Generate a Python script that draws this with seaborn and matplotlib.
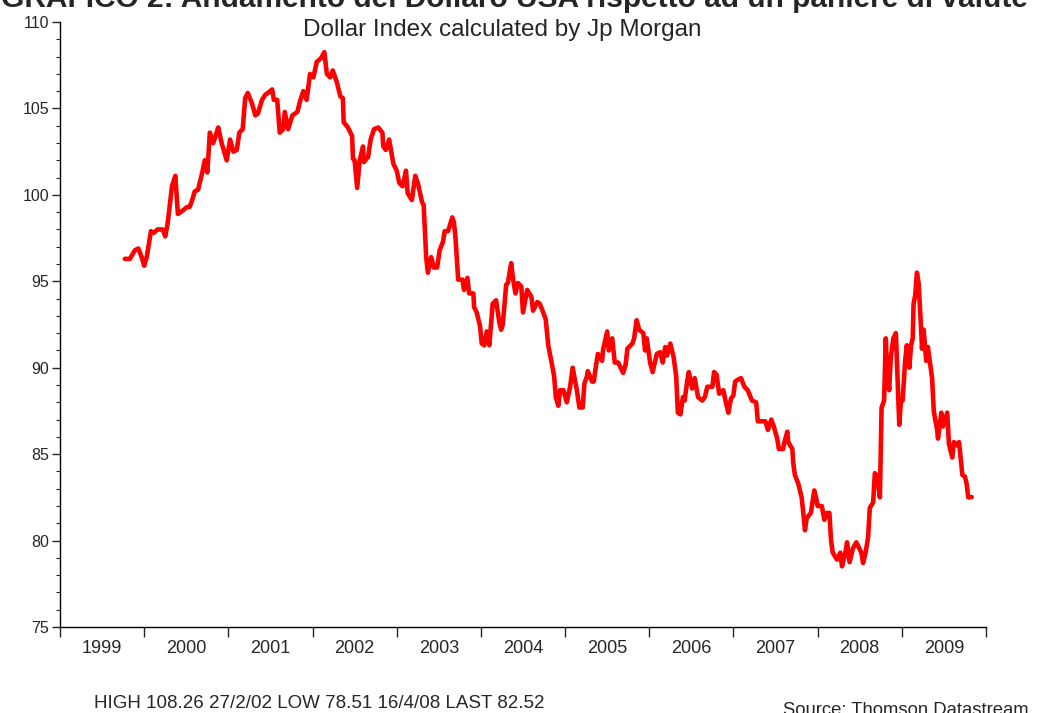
import matplotlib
matplotlib.use("Agg")
import matplotlib.pyplot as plt
import numpy as np
import pandas as pd
import seaborn as sns

# Dollar index (JP Morgan): decimal year and index level
years = [
    1999.77, 1999.83, 1999.89, 1999.93, 1999.97, 2000.00, 2000.03, 2000.08, 2000.11, 2000.16,
    2000.22, 2000.25, 2000.28, 2000.33, 2000.37, 2000.40, 2000.46, 2000.51, 2000.54, 2000.57,
    2000.60, 2000.64, 2000.69, 2000.72, 2000.75, 2000.78, 2000.82, 2000.88, 2000.92, 2000.98,
    2001.02, 2001.06, 2001.10, 2001.13, 2001.17, 2001.20, 2001.23, 2001.28, 2001.32, 2001.35,
    2001.40, 2001.44, 2001.47, 2001.52, 2001.54, 2001.58, 2001.61, 2001.65, 2001.67, 2001.71,
    2001.76, 2001.82, 2001.85, 2001.89, 2001.93, 2001.97, 2002.01, 2002.05, 2002.10, 2002.14,
    2002.17, 2002.21, 2002.24, 2002.29, 2002.33, 2002.36, 2002.37, 2002.42, 2002.47, 2002.48,
    2002.50, 2002.53, 2002.56, 2002.60, 2002.61, 2002.66, 2002.69, 2002.73, 2002.78, 2002.83,
    2002.84, 2002.87, 2002.91, 2002.96, 2003.00, 2003.03, 2003.07, 2003.11, 2003.13, 2003.18,
    2003.22, 2003.25, 2003.30, 2003.32, 2003.35, 2003.37, 2003.41, 2003.44, 2003.48, 2003.51,
    2003.55, 2003.57, 2003.61, 2003.66, 2003.68, 2003.70, 2003.73, 2003.78, 2003.80, 2003.84,
    2003.86, 2003.91, 2003.92, 2003.95, 2003.99, 2004.01, 2004.04, 2004.07, 2004.10, 2004.14,
    2004.18, 2004.22, 2004.24, 2004.26, 2004.30, 2004.32, 2004.36, 2004.38, 2004.41, 2004.44,
    2004.48, 2004.50, 2004.55, 2004.60, 2004.62, 2004.67, 2004.70, 2004.74, 2004.77, 2004.80,
    2004.84, 2004.87, 2004.89, 2004.92, 2004.94, 2004.98, 2005.02, 2005.06, 2005.09, 2005.14,
    2005.17, 2005.21, 2005.23, 2005.26, 2005.27, 2005.32, 2005.34, 2005.37, 2005.39, 2005.44,
    2005.45, 2005.50, 2005.52, 2005.56, 2005.59, 2005.63, 2005.66, 2005.69, 2005.72, 2005.74,
    2005.80, 2005.82, 2005.85, 2005.88, 2005.93, 2005.95, 2005.97, 2006.01, 2006.04, 2006.09,
    2006.13, 2006.16, 2006.19, 2006.21, 2006.25, 2006.27, 2006.29, 2006.32, 2006.34, 2006.37,
    2006.40, 2006.42, 2006.45, 2006.47, 2006.51, 2006.54, 2006.58, 2006.63, 2006.66, 2006.69,
    2006.75, 2006.77, 2006.80, 2006.83, 2006.88, 2006.91, 2006.94, 2006.97, 2007.00, 2007.02,
    2007.05, 2007.09, 2007.13, 2007.17, 2007.22, 2007.27, 2007.29, 2007.34, 2007.38, 2007.41,
    2007.45, 2007.48, 2007.52, 2007.54, 2007.59, 2007.60, 2007.64, 2007.65, 2007.70, 2007.71,
    2007.73, 2007.77, 2007.81, 2007.83, 2007.85, 2007.87, 2007.92, 2007.96, 2007.99, 2008.00,
    2008.05, 2008.08, 2008.11, 2008.14, 2008.16, 2008.18, 2008.23, 2008.27, 2008.29, 2008.33,
    2008.35, 2008.38, 2008.42, 2008.46, 2008.48, 2008.52, 2008.54, 2008.57, 2008.60, 2008.62,
    2008.66, 2008.68, 2008.71, 2008.74, 2008.76, 2008.79, 2008.81, 2008.82, 2008.85, 2008.87,
    2008.90, 2008.93, 2008.97, 2008.99, 2009.01, 2009.04, 2009.06, 2009.09, 2009.11, 2009.13,
    2009.14, 2009.16, 2009.18, 2009.20, 2009.23, 2009.24, 2009.26, 2009.29, 2009.31, 2009.36,
    2009.38, 2009.42, 2009.43, 2009.47, 2009.49, 2009.54, 2009.56, 2009.60, 2009.62, 2009.66,
    2009.68, 2009.72, 2009.75, 2009.77, 2009.79, 2009.83,
]
index_values = [
    96.3, 96.3, 96.8, 96.9, 96.4, 95.9, 96.4, 97.9, 97.8, 98.0,
    98.0, 97.6, 98.4, 100.5, 101.1, 98.9, 99.1, 99.3, 99.3, 99.7,
    100.2, 100.3, 101.3, 102.0, 101.3, 103.6, 103.0, 103.9, 103.0, 102.0,
    103.2, 102.5, 102.6, 103.6, 103.8, 105.6, 105.9, 105.3, 104.6, 104.7,
    105.5, 105.8, 105.9, 106.1, 105.5, 105.5, 103.6, 103.8, 104.8, 103.8,
    104.6, 104.8, 105.4, 106.0, 105.5, 107.0, 106.8, 107.7, 107.9, 108.26,
    107.0, 106.8, 107.2, 106.5, 105.7, 105.6, 104.2, 103.9, 103.4, 102.1,
    102.0, 100.4, 102.0, 102.8, 101.9, 102.2, 103.2, 103.8, 103.9, 103.6,
    102.8, 102.6, 103.2, 101.8, 101.4, 100.7, 100.5, 101.4, 100.1, 99.7,
    101.1, 100.7, 99.6, 99.4, 96.4, 95.5, 96.4, 95.8, 95.8, 96.8,
    97.3, 97.9, 97.9, 98.7, 98.4, 97.4, 95.1, 95.1, 94.5, 95.2,
    94.3, 94.3, 93.5, 93.2, 92.4, 91.4, 91.3, 92.1, 91.3, 93.7,
    93.9, 92.6, 92.2, 92.5, 94.8, 94.9, 96.05, 95.2, 94.3, 94.9,
    94.7, 93.2, 94.5, 94.1, 93.3, 93.8, 93.7, 93.2, 92.8, 91.3,
    90.3, 89.5, 88.3, 87.8, 88.7, 88.7, 88.0, 88.9, 90.0, 88.7,
    87.7, 87.7, 89.1, 89.5, 89.8, 89.2, 89.2, 90.2, 90.8, 90.4,
    91.0, 92.1, 91.0, 91.7, 90.3, 90.3, 90.0, 89.7, 90.2, 91.1,
    91.4, 91.7, 92.75, 92.2, 92.0, 91.0, 91.7, 90.3, 89.75, 90.8,
    90.9, 90.3, 91.2, 90.7, 91.4, 91.0, 90.6, 89.5, 87.4, 87.3,
    88.3, 88.1, 89.2, 89.75, 88.8, 89.4, 88.3, 88.1, 88.3, 88.9,
    88.9, 89.75, 89.6, 88.5, 88.7, 88.0, 87.4, 88.2, 88.4, 89.2,
    89.3, 89.4, 88.9, 88.7, 88.1, 88.0, 86.9, 86.9, 86.9, 86.4,
    87.0, 86.6, 85.9, 85.3, 85.3, 85.6, 86.3, 85.7, 85.3, 84.5,
    83.8, 83.3, 82.5, 81.6, 80.6, 81.3, 81.6, 82.9, 82.3, 82.0,
    82.0, 81.2, 81.6, 81.6, 80.0, 79.3, 78.9, 79.3, 78.51, 79.3,
    79.9, 78.75, 79.55, 79.9, 79.7, 79.3, 78.7, 79.3, 80.2, 81.9,
    82.2, 83.9, 83.7, 82.5, 87.7, 88.1, 91.7, 90.4, 88.7, 90.6,
    91.7, 92.0, 86.7, 88.1, 88.1, 90.4, 91.3, 90.0, 91.3, 91.7,
    93.7, 94.2, 95.5, 94.9, 92.2, 91.1, 92.2, 90.4, 91.2, 89.4,
    87.5, 86.4, 85.9, 87.4, 86.6, 87.4, 85.6, 84.8, 85.7, 85.5,
    85.7, 83.8, 83.7, 83.3, 82.5, 82.52,
]

year_labels = [str(y) for y in range(1999, 2010)]
y_ticks = [75, 80, 85, 90, 95, 100, 105, 110]

title = "GRAFICO 2: Andamento del Dollaro USA rispetto ad un paniere di valute"
subtitle = "Dollar Index calculated by Jp Morgan"
footer_left = "HIGH 108.26 27/2/02 LOW 78.51 16/4/08 LAST 82.52"
footer_right = "Source: Thomson Datastream"

df = pd.DataFrame({"year": years, "value": index_values})

sns.set_style("ticks")
plt.rcParams["font.family"] = ["Liberation Sans", "DejaVu Sans"]

fig = plt.figure(figsize=(10.44, 7.13), dpi=100)
ax = fig.add_axes([0.0575, 0.1206, 0.8869, 0.8485])

sns.lineplot(data=df, x="year", y="value", color="#ff0000", linewidth=3.3, ax=ax)

ax.set_xlim(1999, 2010)
ax.set_ylim(75, 110)
ax.set_xlabel("")
ax.set_ylabel("")

# year boundaries as ticks, labels centred in each year
ax.set_xticks(np.arange(1999, 2011))
ax.set_xticklabels([])
ax.set_xticks(np.arange(1999, 2010) + 0.5, minor=True)
ax.set_xticklabels(year_labels, minor=True, fontsize=13)
ax.tick_params(axis="x", which="major", direction="out", length=7, width=1)
ax.tick_params(axis="x", which="minor", length=0, pad=9)

ax.set_yticks(y_ticks)
ax.set_yticklabels([str(t) for t in y_ticks], fontsize=11.5)
ax.set_yticks(np.arange(75, 111, 1), minor=True)
ax.tick_params(axis="y", which="major", direction="out", length=6, width=1, pad=2)
ax.tick_params(axis="y", which="minor", direction="out", length=3, width=0.8)

sns.despine(ax=ax)
for s in ["left", "bottom"]:
    ax.spines[s].set_linewidth(1.0)
    ax.spines[s].set_color("black")

fig.text(0.493, 0.9905, title, ha="center", va="baseline", fontsize=21.5, fontweight="bold")
fig.text(0.481, 0.958, subtitle, ha="center", va="center", fontsize=17.5)
fig.text(0.3056, 0.014, footer_left, ha="center", va="center", fontsize=13.5)
fig.text(0.868, 0.003, footer_right, ha="center", va="center", fontsize=13.3)

fig.savefig("out.png", dpi=100)
